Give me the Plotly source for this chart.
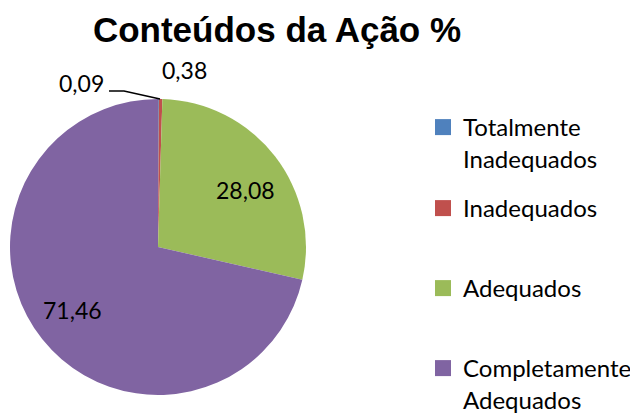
import plotly.graph_objects as go

labels = ["Totalmente<br>Inadequados", "Inadequados", "Adequados", "Completamente<br>Adequados"]
values = [0.09, 0.38, 28.08, 71.46]
colors = ["#4F81BD", "#C0504D", "#9BBB59", "#8064A2"]
title = "Conteúdos da Ação %"

W, H = 638, 414
OFF = 8  # page body margin

def px(x, y):
    return (x - OFF) / W, 1 - (y - OFF) / H

fmt = lambda v: f"{v:.2f}".replace(".", ",")
LBL = dict(family="Lato", size=23, color="black")

fig = go.Figure()
cx, cy, r = 158, 247, 148
x0, ytop = px(cx - r, cy - r)
x1, ybot = px(cx + r, cy + r)
fig.add_trace(go.Pie(
    labels=labels, values=values, sort=False, direction="clockwise", rotation=0,
    marker=dict(colors=colors, line=dict(width=0)),
    textinfo="none", showlegend=False,
    domain=dict(x=[x0, x1], y=[ybot, ytop]),
    hoverinfo="label+value",
))

# data labels
label_pos = [(81, 83), (184, 70), (245, 190), (72, 310)]
for v, (lx, ly) in zip(values, label_pos):
    ax_, ay_ = px(lx, ly)
    fig.add_annotation(x=ax_, y=ay_, xref="paper", yref="paper", text=fmt(v),
                       xanchor="center", yanchor="middle",
                       showarrow=False, font=LBL)
a = px(109, 91); b = px(124, 91); c = px(160, 99)
fig.add_shape(type="path", xref="paper", yref="paper",
              path=f"M {a[0]} {a[1]} L {b[0]} {b[1]} L {c[0]} {c[1]}",
              line=dict(color="black", width=1.5))

# legend entries (one legend per entry to reproduce spacing)
legend_centers = [127, 208, 288, 368]
for i, (lab, col, yc) in enumerate(zip(labels, colors, legend_centers)):
    name = "legend" if i == 0 else f"legend{i+1}"
    fig.add_trace(go.Scatter(x=[None], y=[None], mode="markers", name=lab,
                             marker=dict(symbol="square", size=16, color=col),
                             legend=name, showlegend=True, hoverinfo="skip"))
    lx, ly = px(423, yc - 22)
    fig.update_layout({name: dict(x=lx, y=ly, xanchor="left", yanchor="top",
                                  font=dict(family="Lato", size=24, color="black"),
                                  valign="top", itemwidth=30, bgcolor="rgba(0,0,0,0)",
                                  itemclick=False, itemdoubleclick=False)})

tx, ty = px(277, 30)
fig.update_layout(
    width=W, height=H,
    margin=dict(l=0, r=0, t=0, b=0, autoexpand=False),
    paper_bgcolor="white", plot_bgcolor="white",
    xaxis=dict(visible=False), yaxis=dict(visible=False),
    title=dict(text=f"<b>{title}</b>", x=tx, xanchor="center", y=ty, yanchor="middle",
               font=dict(family="Liberation Sans", size=35, color="black")),
)

fig.write_html("out.html")
